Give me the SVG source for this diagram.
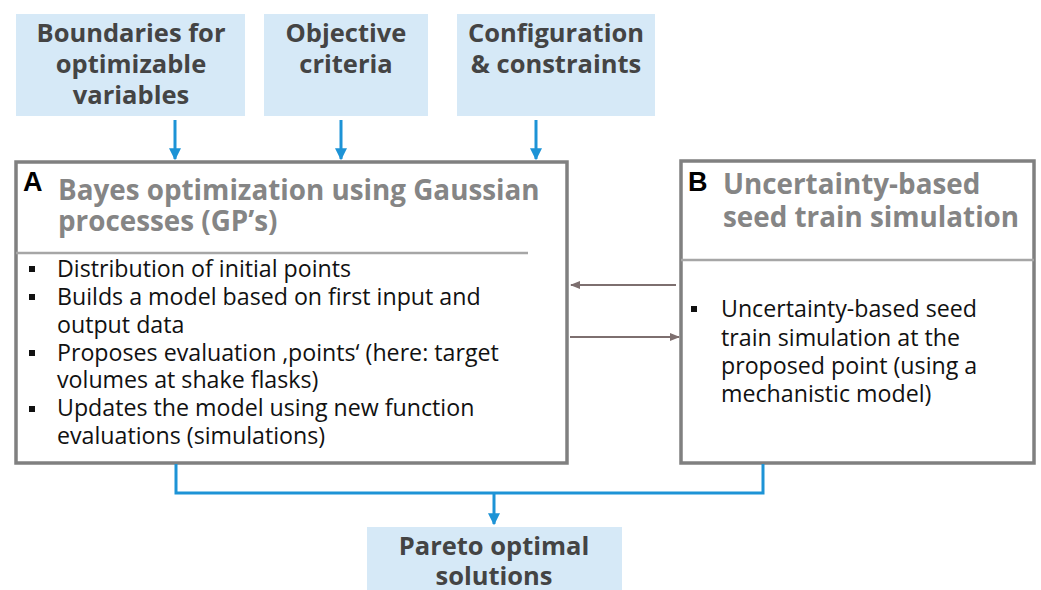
<svg xmlns="http://www.w3.org/2000/svg" width="1041" height="590" viewBox="0 0 1041 590">
<style>
.inbox{fill:#d6e9f7;stroke:none}
.intext{font-family:"Open Sans","Liberation Sans",sans-serif;font-weight:bold;font-size:25.5px;fill:#444444;text-anchor:middle}
.frame{fill:#ffffff;stroke:#808080;stroke-width:3.5}
.sep{stroke:#a6a6a6;stroke-width:2.5}
.letter{font-family:"Liberation Sans",Arial,sans-serif;font-weight:bold;font-size:27px;fill:#000000}
.title{font-family:"Open Sans","Liberation Sans",sans-serif;font-weight:bold;font-size:27.8px;fill:#858585}
.bul{font-family:"Open Sans","Liberation Sans",sans-serif;font-size:23.2px;fill:#111111}
.sq{fill:#111111}
.blue{fill:none;stroke:#1d93d6;stroke-width:3}
.grey{fill:none;stroke:#7d6f6f;stroke-width:2}
</style>
<defs>
<marker id="ab" viewBox="0 0 10 10" refX="9" refY="5" markerWidth="4" markerHeight="4" orient="auto" markerUnits="strokeWidth">
<path d="M0,0 L10,5 L0,10 z" fill="#1d93d6"/>
</marker>
<marker id="ag" viewBox="0 0 10 10" refX="9" refY="5" markerWidth="5" markerHeight="5" orient="auto" markerUnits="strokeWidth">
<path d="M0,1 L10,5 L0,9 z" fill="#7d6f6f"/>
</marker>
</defs>

<g id="input-boundaries">
<rect class="inbox" x="16" y="14" width="229" height="102"/>
<text class="intext"><tspan x="131" y="42">Boundaries for</tspan><tspan x="131" y="73">optimizable</tspan><tspan x="131" y="104">variables</tspan></text>
</g>
<g id="input-objective">
<rect class="inbox" x="264" y="14" width="164" height="102"/>
<text class="intext"><tspan x="346" y="42">Objective</tspan><tspan x="346" y="73">criteria</tspan></text>
</g>
<g id="input-config">
<rect class="inbox" x="457" y="14" width="198" height="102"/>
<text class="intext"><tspan x="556" y="42">Configuration</tspan><tspan x="556" y="73">&amp; constraints</tspan></text>
</g>

<g id="box-A">
<rect class="frame" x="16" y="162" width="551" height="301"/>
<line class="sep" x1="16" y1="253" x2="528" y2="253"/>
<text class="letter" x="23" y="191">A</text>
<text class="title"><tspan x="58" y="200">Bayes optimization using Gaussian</tspan><tspan x="58" y="231">processes (GP’s)</tspan></text>
<rect class="sq" x="29" y="266" width="6" height="6"/>
<rect class="sq" x="29" y="294" width="6" height="6"/>
<rect class="sq" x="29" y="350" width="6" height="6"/>
<rect class="sq" x="29" y="406" width="6" height="6"/>
<text class="bul"><tspan x="57" y="277">Distribution of initial points</tspan><tspan x="57" y="305">Builds a model based on first input and</tspan><tspan x="57" y="333">output data</tspan><tspan x="57" y="361">Proposes evaluation ‚points‘ (here: target</tspan><tspan x="57" y="388">volumes at shake flasks)</tspan><tspan x="57" y="416">Updates the model using new function</tspan><tspan x="57" y="444">evaluations (simulations)</tspan></text>
</g>

<g id="box-B">
<rect class="frame" x="681" y="161" width="353" height="302"/>
<line class="sep" x1="681" y1="260" x2="1034" y2="260"/>
<text class="letter" x="688" y="191">B</text>
<text class="title"><tspan x="723" y="194">Uncertainty-based</tspan><tspan x="723" y="227">seed train simulation</tspan></text>
<rect class="sq" x="691" y="306" width="6" height="6"/>
<text class="bul"><tspan x="721" y="317">Uncertainty-based seed</tspan><tspan x="721" y="346">train simulation at the</tspan><tspan x="721" y="374">proposed point (using a</tspan><tspan x="721" y="402">mechanistic model)</tspan></text>
</g>

<g id="output-pareto">
<rect class="inbox" x="367" y="527" width="255" height="63"/>
<text class="intext"><tspan x="494" y="555">Pareto optimal</tspan><tspan x="494" y="585">solutions</tspan></text>
</g>

<g id="connectors">
<line class="blue" x1="175" y1="120" x2="175" y2="159" marker-end="url(#ab)"/>
<line class="blue" x1="341" y1="120" x2="341" y2="159" marker-end="url(#ab)"/>
<line class="blue" x1="536" y1="120" x2="536" y2="159" marker-end="url(#ab)"/>
<line class="grey" x1="676" y1="285" x2="571" y2="285" marker-end="url(#ag)"/>
<line class="grey" x1="570" y1="337" x2="679" y2="337" marker-end="url(#ag)"/>
<polyline class="blue" points="176,464 176,493 763,493 763,464"/>
<line class="blue" x1="494" y1="493" x2="494" y2="524" marker-end="url(#ab)"/>
</g>
</svg>
